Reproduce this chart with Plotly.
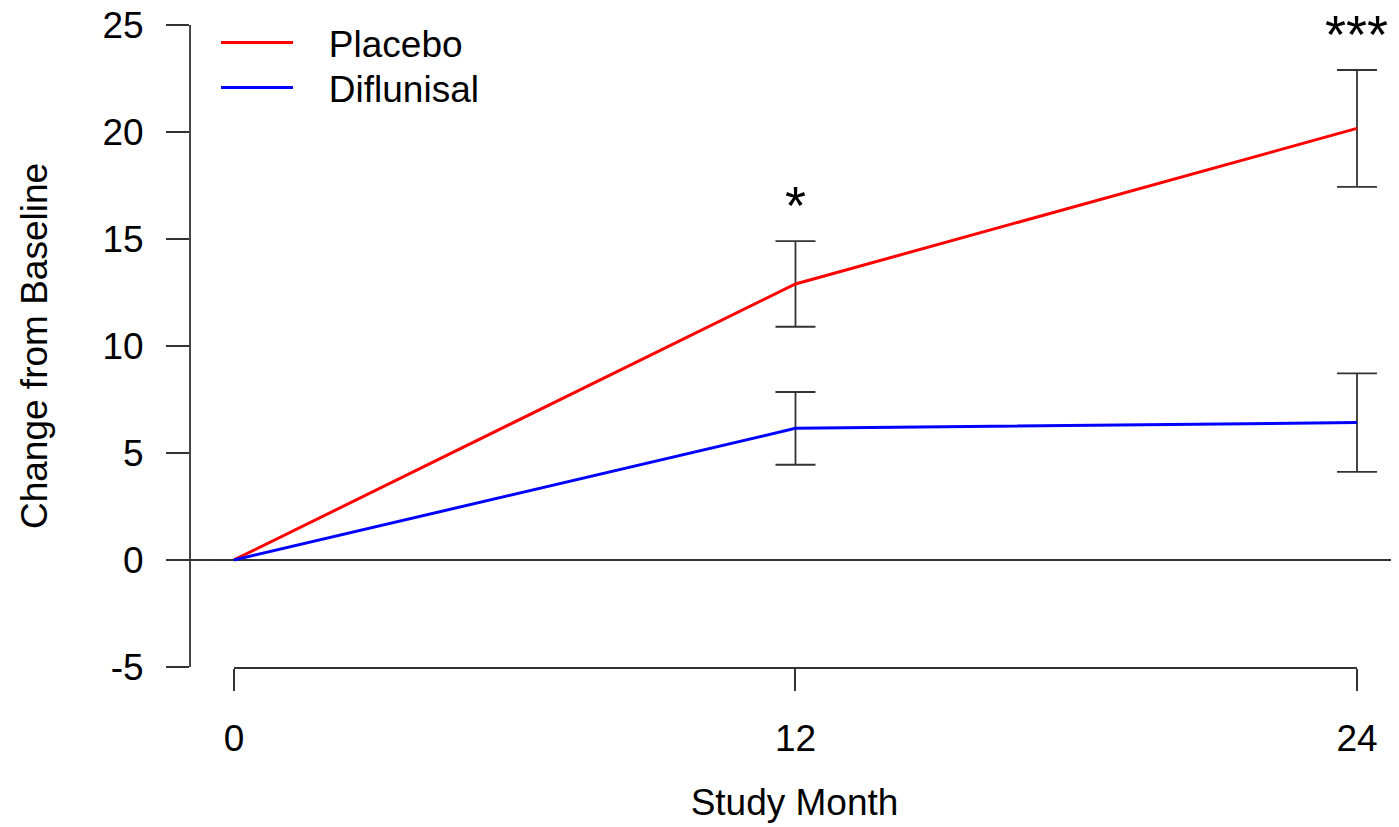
import plotly.graph_objects as go

# ---- data ----
MONTHS = [0, 12, 24]
PLACEBO_MEAN = [0.0, 12.9, 20.17]
PLACEBO_SE = [None, 2.0, 2.73]
DIFLUNISAL_MEAN = [0.0, 6.15, 6.42]
DIFLUNISAL_SE = [None, 1.7, 2.3]

SIG_MONTHS = [12, 24]
SIG_LABELS = ["*", "***"]
SIG_Y = [16.6, 24.6]

X_TICKS = [0, 12, 24]
X_TICK_LABELS = ["0", "12", "24"]
Y_TICKS = [-5, 0, 5, 10, 15, 20, 25]
Y_TICK_LABELS = ["-5", "0", "5", "10", "15", "20", "25"]

FONT = "Liberation Sans, Arial, Helvetica, sans-serif"
FS = 37
AXC = "#333333"
AXW = 1.8
PAD = "\u00a0\u00a0\u00a0"

fig = go.Figure()

fig.add_trace(go.Scatter(
    x=MONTHS, y=PLACEBO_MEAN, mode="lines", name=PAD + "Placebo",
    legend="legend",
    line=dict(color="#ff0000", width=3),
    error_y=dict(type="data", array=PLACEBO_SE, symmetric=True,
                 color=AXC, thickness=AXW, width=20),
))
fig.add_trace(go.Scatter(
    x=MONTHS, y=DIFLUNISAL_MEAN, mode="lines", name=PAD + "Diflunisal",
    legend="legend2",
    line=dict(color="#0000ff", width=3),
    error_y=dict(type="data", array=DIFLUNISAL_SE, symmetric=True,
                 color=AXC, thickness=AXW, width=20),
))

for xm, lab, ys in zip(SIG_MONTHS, SIG_LABELS, SIG_Y):
    fig.add_annotation(x=xm, y=ys, xref="x", yref="y", text=lab,
                       showarrow=False, xanchor="center", yanchor="middle",
                       font=dict(family=FONT, size=54, color="black"))

# R-style detached axis lines
fig.add_shape(type="line", xref="paper", yref="y", x0=0, x1=0,
              y0=min(Y_TICKS), y1=max(Y_TICKS),
              line=dict(color=AXC, width=AXW))
fig.add_shape(type="line", xref="x", yref="paper", x0=min(X_TICKS), x1=max(X_TICKS),
              y0=0, y1=0, line=dict(color=AXC, width=AXW))

legend_common = dict(xanchor="left", yanchor="top",
                     bgcolor="rgba(0,0,0,0)", borderwidth=0,
                     font=dict(family=FONT, size=FS, color="black"),
                     itemwidth=72)

fig.update_layout(
    width=1391, height=819,
    margin=dict(l=182, r=0, t=16, b=159, autoexpand=False),
    paper_bgcolor="white", plot_bgcolor="white",
    font=dict(family=FONT, size=FS, color="black"),
    showlegend=True,
    legend=dict(x=0.0215, y=1.0186, **legend_common),
    legend2=dict(x=0.0215, y=0.9488, **legend_common),
    xaxis=dict(
        range=[-0.940, 24.898], tickmode="array", tickvals=X_TICKS,
        ticktext=X_TICK_LABELS, ticks="outside", ticklen=22,
        tickwidth=AXW, tickcolor=AXC, showline=False, showgrid=False,
        zeroline=False, ticklabelstandoff=16, ticklabeloverflow="allow",
        title=dict(text="Study Month", standoff=30,
                   font=dict(family=FONT, size=FS, color="black")),
        automargin=False,
    ),
    yaxis=dict(
        range=[-5.05, 25.05], tickmode="array", tickvals=Y_TICKS,
        ticktext=Y_TICK_LABELS, ticks="outside", ticklen=23,
        tickwidth=AXW, tickcolor=AXC, showline=False, showgrid=False,
        zeroline=True, zerolinecolor=AXC, zerolinewidth=AXW,
        ticklabelstandoff=15, ticklabeloverflow="allow",
        title=dict(text="Change from Baseline", standoff=43,
                   font=dict(family=FONT, size=FS, color="black")),
        automargin=False,
    ),
)

fig.write_html("out.html")
